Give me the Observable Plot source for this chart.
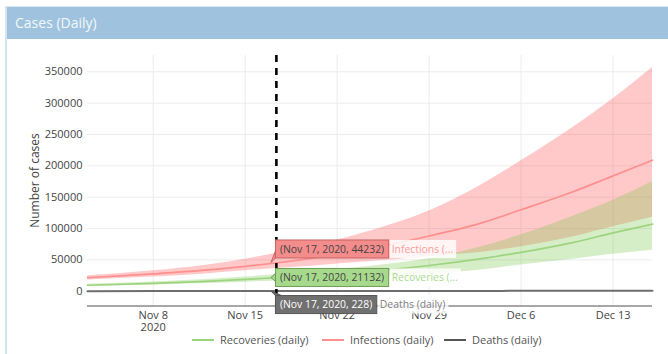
<!DOCTYPE html>
<html><head><meta charset="utf-8">
<script src="https://cdn.jsdelivr.net/npm/d3@7"></script>
<script src="https://cdn.jsdelivr.net/npm/@observablehq/plot@0.6"></script>
<style>
body{margin:0;background:#fff;font-family:"Open Sans",sans-serif;}
#wrap{position:relative;width:668px;height:354px;overflow:hidden;}
#topline{position:absolute;left:5px;top:6px;width:663px;height:1px;background:#dbe7f1;}
#header{position:absolute;left:5px;top:7px;width:663px;height:32px;background:#9fc3de;}
#title{position:absolute;left:15px;top:13px;color:#f3f7fb;font-size:14px;line-height:19px;}
#lborder{position:absolute;left:5px;top:7px;width:2px;height:347px;background:#d3e3f0;}
#chart{position:absolute;left:0;top:39px;}
.leg{position:absolute;top:332px;height:16px;font-size:11px;color:#555;line-height:16px;white-space:nowrap;}
.leg i{display:inline-block;width:22px;height:2px;vertical-align:middle;margin-right:6px;position:relative;top:-1px;}
</style></head>
<body>
<div id="wrap">
  <div id="topline"></div>
  <div id="header"></div>
  <div id="title">Cases (Daily)</div>
  <div id="chart"></div>
  <div id="lborder"></div>
</div>
<script>
// ---- data ----
const dates = ["2020-11-03","2020-11-08","2020-11-12","2020-11-15","2020-11-17","2020-11-20","2020-11-24","2020-11-29","2020-12-03","2020-12-06","2020-12-10","2020-12-13","2020-12-16"];
const infections     = [21500, 27500, 33500, 39500, 44232, 52500, 66000, 88000, 109000, 130000, 159000, 184000, 209000];
const infectionsLow  = [18000, 22500, 27500, 32500, 36000, 40000, 46500, 55000, 62000, 71000, 87000, 103000, 118000];
const infectionsHigh = [24500, 32500, 41500, 51000, 59000, 72000, 93000, 128000, 170000, 208000, 262000, 307000, 357000];
const recoveries     = [9500, 12500, 15800, 18800, 21132, 24800, 31000, 41000, 52000, 62000, 78000, 93000, 107000];
const recoveriesLow  = [7800, 10000, 12300, 14300, 16000, 18500, 22000, 28000, 34000, 42000, 51000, 59000, 65500];
const recoveriesHigh = [11000, 14500, 18500, 22500, 26000, 30500, 38500, 52000, 71000, 90000, 120000, 145000, 175000];
const deaths         = [120, 150, 180, 205, 228, 265, 320, 400, 480, 550, 660, 760, 860];
const markerDate = "2020-11-17T09:00Z";
const hoverDate = "2020-11-17";
const xDomain = ["2020-11-03", "2020-12-16"];
const yDomain = [-24400, 376000];
const yTicks = [0, 50000, 100000, 150000, 200000, 250000, 300000, 350000];
const tickDates = ["2020-11-08","2020-11-15","2020-11-22","2020-11-29","2020-12-06","2020-12-13"];
const tickLabels = ["Nov 8\n2020","Nov 15","Nov 22","Nov 29","Dec 6","Dec 13"];
const seriesNames = ["Recoveries (daily)", "Infections (daily)", "Deaths (daily)"];
const hoverNames = ["Recoveries (...", "Infections (...", "Deaths (daily)"];

const rows = dates.map((d, i) => ({
  date: new Date(d),
  inf: infections[i], infLo: infectionsLow[i], infHi: infectionsHigh[i],
  rec: recoveries[i], recLo: recoveriesLow[i], recHi: recoveriesHigh[i],
  dea: deaths[i]
}));
const tDates = tickDates.map(d => new Date(d));

const colInf = "#ff8f8f", colRec = "#9dd47f", colDea = "#6e6e6e";

const plot = Plot.plot({
  width: 668, height: 315,
  marginLeft: 87, marginRight: 16, marginTop: 16, marginBottom: 48,
  style: {fontFamily: "'Open Sans', sans-serif", fontSize: "11px", color: "#444", background: "transparent"},
  x: {type: "utc", domain: xDomain.map(d => new Date(d))},
  y: {domain: yDomain},
  marks: [
    Plot.gridY({ticks: yTicks.filter(v => v > 0), stroke: "#ececec", strokeOpacity: 1}),
    Plot.gridX({ticks: tDates, stroke: "#ececec", strokeOpacity: 1}),
    Plot.areaY(rows, {x: "date", y1: "infLo", y2: "infHi", fill: "#ff4d4d", fillOpacity: 0.3, curve: "monotone-x"}),
    Plot.areaY(rows, {x: "date", y1: "recLo", y2: "recHi", fill: "#78c846", fillOpacity: 0.3, curve: "monotone-x"}),
    Plot.line(rows, {x: "date", y: "inf", stroke: colInf, strokeWidth: 1.7, curve: "monotone-x"}),
    Plot.line(rows, {x: "date", y: "rec", stroke: colRec, strokeWidth: 1.7, curve: "monotone-x"}),
    Plot.line(rows, {x: "date", y: "dea", stroke: colDea, strokeWidth: 2, curve: "monotone-x"}),
    Plot.ruleX([new Date(markerDate)], {stroke: "#000", strokeWidth: 2.6, strokeDasharray: "7,6"}),
    Plot.axisY({ticks: yTicks, tickSize: 0, tickPadding: 5, tickFormat: d => String(d), label: null, fontSize: 11}),
    Plot.axisX({ticks: tDates, tickSize: 0, tickPadding: 4, label: null, fontSize: 11, lineHeight: 1.1,
      tickFormat: d => tickLabels[tDates.findIndex(t => +t === +d)]})
  ]
});
document.getElementById("chart").append(plot);

const svg = d3.select(plot);
const sx = plot.scale("x").apply, sy = plot.scale("y").apply;
const [yb, yt] = plot.scale("y").range;
const [xl, xr] = plot.scale("x").range;

// bottom axis line
svg.append("line").attr("x1", xl).attr("x2", xr).attr("y1", yb).attr("y2", yb)
  .attr("stroke", "#8a8a8a").attr("stroke-width", 1.5);

// y axis title
svg.append("text").attr("transform", `translate(36,${(yb + yt) / 2}) rotate(-90)`)
  .attr("text-anchor", "middle").attr("dominant-baseline", "middle")
  .attr("font-size", 12).attr("fill", "#444").text("Number of cases");

// hover labels
const hi = dates.indexOf(hoverDate);
const hovers = [
  {v: infections[hi], name: hoverNames[1], off: -14, fill: "#f48c8c", stroke: "#c46464", tc: "#444", nc: "#ff9c9c", kind: "up"},
  {v: recoveries[hi], name: hoverNames[0], off: 0, fill: "#a6d98b", stroke: "#6e9e55", tc: "#444", nc: "#a9db8f", kind: "mid"},
  {v: deaths[hi], name: hoverNames[2], off: 14, fill: "#707070", stroke: "#555", tc: "#fff", nc: "#808080", kind: "down"}
];
const px = sx(new Date(hoverDate));
const fmtDate = "Nov 17, 2020";
const g = svg.append("g").attr("font-size", 10.4).attr("text-anchor", "start");
for (const h of hovers) {
  const py = sy(h.v);
  const cy = py + h.off;
  const bx = px + 4.5, bh = 18, top = cy - bh / 2;
  const grp = g.append("g");
  const rect = grp.append("rect");
  const t = grp.append("text").attr("x", bx + 4.5).attr("y", cy + 3.6).attr("fill", h.tc)
    .attr("text-anchor", "start").text(`(${fmtDate}, ${h.v})`);
  const w = t.node().getComputedTextLength() + 9;
  rect.attr("x", bx).attr("y", top).attr("width", w).attr("height", bh)
    .attr("fill", h.fill).attr("stroke", h.stroke).attr("stroke-width", 1);
  let pts;
  if (h.kind === "up") pts = [[px, py - 0.5], [bx, top + bh - 7], [bx, top + bh]];
  else if (h.kind === "mid") pts = [[px, py], [bx, py - 4], [bx, py + 4]];
  else pts = [[px, py + 0.5], [bx, top], [bx + 6, top]];
  grp.insert("path", "text").attr("d", "M" + pts.map(p => p.join(",")).join("L") + "Z")
    .attr("fill", h.fill).attr("stroke", h.stroke).attr("stroke-width", 1);
  const nbg = grp.append("rect");
  const nt = grp.append("text").attr("x", bx + w + 3).attr("y", cy + 3.6).attr("fill", h.nc)
    .attr("text-anchor", "start").text(h.name);
  const nw = nt.node().getComputedTextLength() + 5;
  nbg.attr("x", bx + w + 1).attr("y", top).attr("width", nw).attr("height", bh)
    .attr("fill", "#fff").attr("fill-opacity", 0.82);
}

// legend
const legCols = [colRec, colInf, "#555"];
const legX = [192, 322, 444];
const wrap = document.getElementById("wrap");
seriesNames.forEach((n, i) => {
  const d = document.createElement("div");
  d.className = "leg";
  d.style.left = legX[i] + "px";
  d.innerHTML = `<i style="background:${legCols[i]}"></i>${n}`;
  wrap.append(d);
});
</script>
</body></html>
